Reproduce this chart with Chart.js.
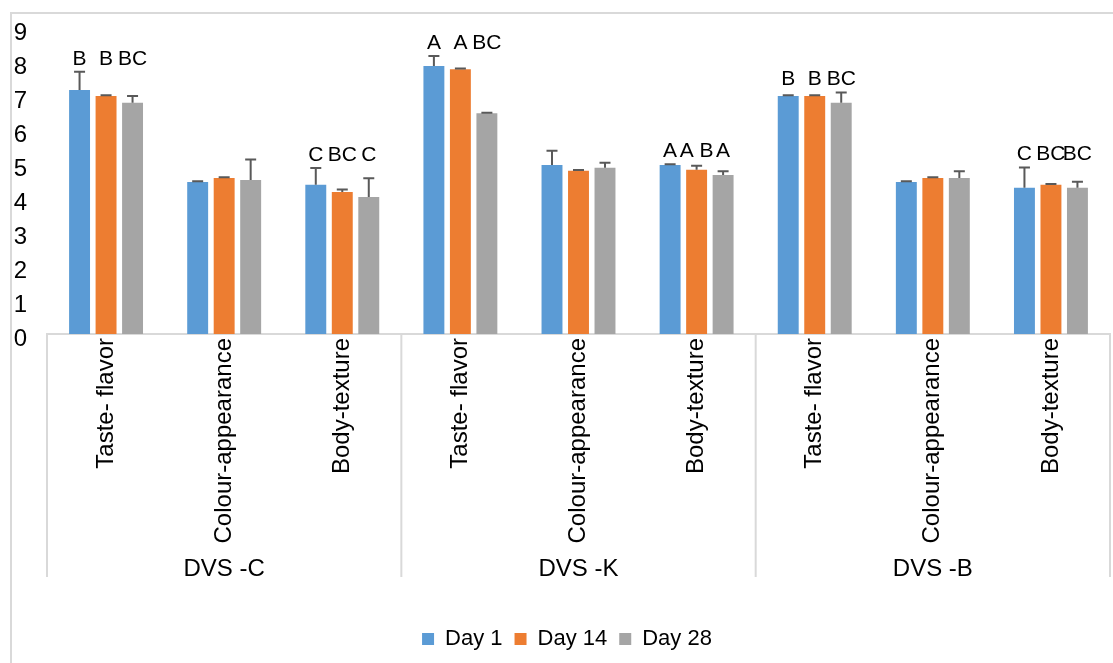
<!DOCTYPE html>
<html><head><meta charset="utf-8">
<script src="https://cdn.jsdelivr.net/npm/chart.js@4.4.0/dist/chart.umd.min.js"></script>
<style>
html,body{margin:0;padding:0;background:#fff;width:1113px;height:663px;overflow:hidden;}
#frame{position:absolute;left:10px;top:12px;width:1120px;height:670px;border:2px solid #d9d9d9;box-sizing:border-box;}
#c{position:absolute;left:0;top:0;}
</style></head>
<body><div id="frame"></div><canvas id="c" width="1113" height="663"></canvas>
<script>
const groups = ['DVS -C', 'DVS -K', 'DVS -B'];
const attributes = ['Taste- flavor', 'Colour-appearance', 'Body-texture'];
const categories = ['Taste- flavor', 'Colour-appearance', 'Body-texture',
                    'Taste- flavor', 'Colour-appearance', 'Body-texture',
                    'Taste- flavor', 'Colour-appearance', 'Body-texture'];
const seriesNames = ['Day 1', 'Day 14', 'Day 28'];
const day1  = [7.18, 4.47, 4.39, 7.88, 4.97, 4.97, 7.00, 4.47, 4.30];
const day14 = [7.00, 4.59, 4.18, 7.79, 4.80, 4.83, 7.00, 4.59, 4.39];
const day28 = [6.80, 4.53, 4.03, 6.49, 4.89, 4.68, 6.80, 4.59, 4.30];
const err1  = [0.53, 0.02, 0.49, 0.30, 0.42, 0.02, 0.02, 0.02, 0.60];
const err14 = [0.02, 0.02, 0.07, 0.02, 0.02, 0.12, 0.02, 0.02, 0.02];
const err28 = [0.20, 0.60, 0.55, 0.02, 0.15, 0.11, 0.30, 0.20, 0.18];
const letters1  = ['B', '', 'C', 'A', '', 'A', 'B', '', 'C'];
const letters14 = ['B', '', 'BC', 'A', '', 'A B', 'B', '', 'BC'];
const letters28 = ['BC', '', 'C', 'BC', '', 'A', 'BC', '', 'BC'];
const yMin = 0, yMax = 9, yStep = 1;

const FONT = 'Liberation Sans';
const colors = ['#5B9BD5', '#ED7D31', '#A5A5A5'];
const values = [day1, day14, day28];
const errors = [err1, err14, err28];
const letters = [letters1, letters14, letters28];

const overlay = {
  id: 'overlay',
  afterLayout(chart) {
    const lg = chart.legend;
    if (lg) { lg.left += 12; lg.right += 12; }
  },
  afterDatasetsDraw(chart) {
    const ctx = chart.ctx, x = chart.scales.x, y = chart.scales.y, x2 = chart.scales.x2;
    const ca = chart.chartArea;
    ctx.save();
    // group separators
    ctx.strokeStyle = '#d9d9d9'; ctx.lineWidth = 2;
    const sepBottom = x2.top + 28;
    const bounds = [ca.left];
    for (let g = 1; g < groups.length; g++) {
      const i = g * attributes.length;
      bounds.push((x.getPixelForValue(i) + x.getPixelForValue(i - 1)) / 2);
    }
    bounds.push(ca.right);
    bounds.forEach(b => { ctx.beginPath(); ctx.moveTo(b, ca.bottom); ctx.lineTo(b, sepBottom); ctx.stroke(); });
    // error bars (plus only)
    ctx.strokeStyle = '#595959'; ctx.lineWidth = 2;
    chart.data.datasets.forEach((ds, di) => {
      const meta = chart.getDatasetMeta(di);
      meta.data.forEach((bar, i) => {
        const top = y.getPixelForValue(ds.data[i] + errors[di][i]);
        ctx.beginPath();
        ctx.moveTo(bar.x, bar.y); ctx.lineTo(bar.x, top);
        ctx.moveTo(bar.x - 5.5, top); ctx.lineTo(bar.x + 5.5, top);
        ctx.stroke();
      });
    });
    // significance letters
    ctx.fillStyle = '#000';
    ctx.font = '21px "' + FONT + '"';
    ctx.textAlign = 'center'; ctx.textBaseline = 'middle';
    for (let i = 0; i < categories.length; i++) {
      let gTop = Infinity;
      for (let di = 0; di < values.length; di++) {
        gTop = Math.min(gTop, y.getPixelForValue(values[di][i] + errors[di][i]));
      }
      for (let di = 0; di < values.length; di++) {
        const t = letters[di][i];
        if (!t) continue;
        const bar = chart.getDatasetMeta(di).data[i];
        ctx.fillText(t, bar.x, gTop - 13);
      }
    }
    ctx.restore();
  }
};

new Chart(document.getElementById('c'), {
  type: 'bar',
  data: {
    labels: categories,
    datasets: seriesNames.map((n, k) => ({
      label: n, data: values[k], backgroundColor: colors[k], borderWidth: 0,
      categoryPercentage: 0.673, barPercentage: 0.79
    }))
  },
  options: {
    responsive: false, animation: false, devicePixelRatio: 1,
    layout: { padding: { left: 0, right: 3, top: 28, bottom: 3 } },
    plugins: {
      tooltip: { enabled: false },
      legend: {
        position: 'bottom',
        labels: { color: '#000', font: { family: FONT, size: 22 }, boxWidth: 12, boxHeight: 12, padding: 12 }
      }
    },
    scales: {
      y: {
        min: yMin, max: yMax,
        ticks: { stepSize: yStep, color: '#000', font: { family: FONT, size: 24 }, padding: 12, labelOffset: 5 },
        grid: { display: false }, border: { display: false },
        afterFit: s => { s.width = 47; }
      },
      x: {
        weight: 0,
        ticks: { color: '#000', font: { family: FONT, size: 24 }, maxRotation: 90, minRotation: 90, autoSkip: false, padding: -4 },
        grid: { display: false },
        border: { display: true, color: '#d9d9d9', width: 2 },
        afterFit: s => { s.height = 215; }
      },
      x2: {
        type: 'category', position: 'bottom', weight: 1, offset: true,
        labels: groups,
        ticks: { color: '#000', font: { family: FONT, size: 24 }, maxRotation: 0, autoSkip: false, padding: -2 },
        grid: { display: false }, border: { display: false },
        afterFit: s => { s.height = 67; }
      }
    }
  },
  plugins: [overlay]
});
</script>
</body></html>
